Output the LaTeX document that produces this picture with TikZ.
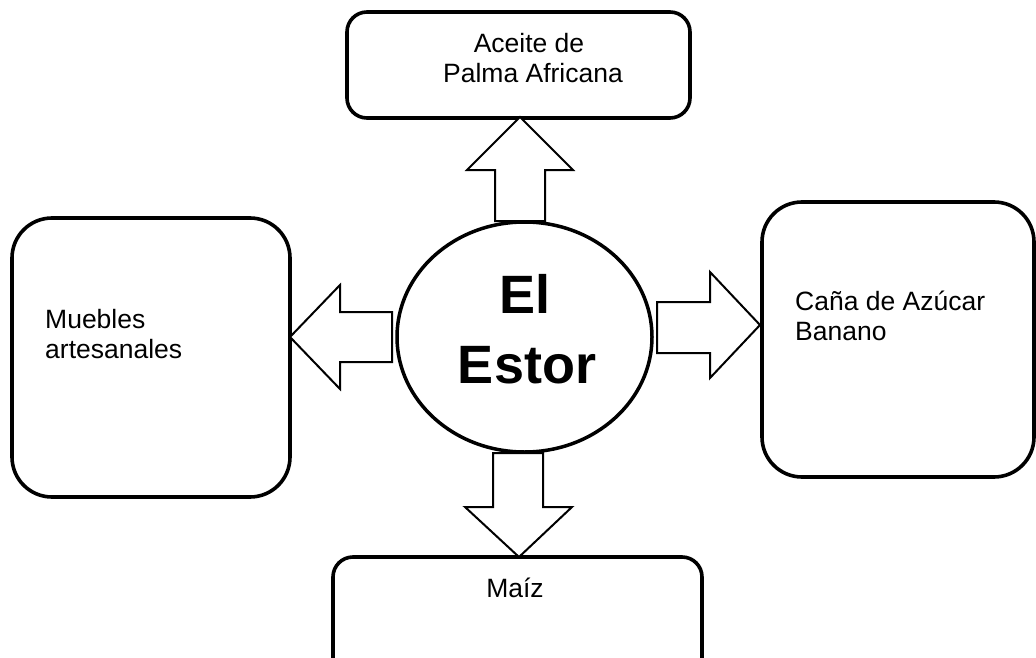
\documentclass[tikz,border=0pt]{standalone}
\usepackage{fontspec}
\setmainfont{Liberation Sans}
\usetikzlibrary{shapes.geometric}
\begin{document}
\begin{tikzpicture}[x=1pt,y=-1pt,
  box/.style={draw, line width=3.6pt, rounded corners=#1},
  blockarrow/.style={draw, line width=2pt, fill=white, line join=miter},
  lbl/.style={inner sep=0pt, font=\fontsize{26.5}{30}\selectfont},
  big/.style={inner sep=0pt, font=\fontsize{54}{70}\selectfont\bfseries}]
\useasboundingbox (0,0) rectangle (1036,658);
% boxes
\draw[box=20pt] (347,12) rectangle (690,118);
\draw[box=40pt] (12,218) rectangle (290,497);
\draw[box=40pt] (762,202) rectangle (1034,477);
\draw[box=20pt] (333,557) rectangle (702,700);
% block arrows
\draw[blockarrow] (495,221) -- (495,170) -- (467,170) -- (520,117) -- (573,170) -- (545,170) -- (545,221) -- cycle;
\draw[blockarrow] (392,312) -- (340,312) -- (340,285) -- (290,337) -- (340,389) -- (340,362) -- (392,362) -- cycle;
\draw[blockarrow] (657,302) -- (710,302) -- (710,272) -- (760,325) -- (710,378) -- (710,353) -- (657,353) -- cycle;
\draw[blockarrow] (493,453) -- (493,507) -- (465,507) -- (519,557) -- (572,507) -- (543,507) -- (543,453) -- cycle;
% centre
\node (c) [ellipse, draw, line width=3.5pt, fill=white, minimum width=255pt, minimum height=230pt, inner sep=0pt] at (524.5,337) {};
\node (el) [big, anchor=base] at (525,313) {El};
\node (estor) [big, anchor=base] at (527,383) {Estor};
% labels
\node (t1) [lbl, anchor=base] at (529,53) {Aceite de};
\node (t2) [lbl, anchor=base] at (533,83) {Palma Africana};
\node (l1) [lbl, anchor=base west] at (45,328) {Muebles};
\node (l2) [lbl, anchor=base west] at (45,358) {artesanales};
\node (r1) [lbl, anchor=base west] at (795,310) {Caña de Azúcar};
\node (r2) [lbl, anchor=base west] at (795,340) {Banano};
\node (b1) [lbl, anchor=base] at (515,597) {Maíz};
\end{tikzpicture}
\end{document}
